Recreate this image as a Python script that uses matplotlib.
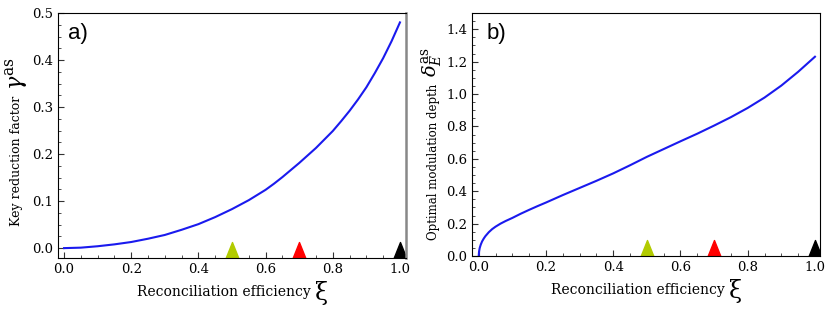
import numpy as np
import matplotlib
matplotlib.use("Agg")
import matplotlib.pyplot as plt
from matplotlib.path import Path
from matplotlib.ticker import MultipleLocator
from matplotlib.transforms import blended_transform_factory

# values
xi_a = [0.0, 0.05, 0.1, 0.15, 0.2, 0.25, 0.3, 0.35, 0.4, 0.45, 0.5, 0.55,
        0.6, 0.625, 0.65, 0.675, 0.7, 0.725, 0.75, 0.775, 0.8, 0.825, 0.85,
        0.875, 0.9, 0.925, 0.95, 0.975, 1.0]
gamma = [0.0, 0.001, 0.004, 0.008, 0.013, 0.020, 0.028, 0.039, 0.051, 0.066,
         0.083, 0.102, 0.124, 0.137, 0.151, 0.166, 0.181, 0.197, 0.213, 0.231,
         0.249, 0.270, 0.292, 0.316, 0.342, 0.372, 0.404, 0.440, 0.48]

xi_b = [0.0, 0.001, 0.003, 0.006, 0.01, 0.015, 0.02, 0.03, 0.04, 0.05, 0.065,
        0.08, 0.1, 0.125, 0.15, 0.175, 0.2, 0.25, 0.3, 0.35, 0.4, 0.45, 0.5,
        0.55, 0.6, 0.65, 0.7, 0.75, 0.8, 0.85, 0.9, 0.95, 1.0]
delta = [0.0, 0.028, 0.05, 0.07, 0.09, 0.108, 0.123, 0.147, 0.166, 0.181,
         0.200, 0.216, 0.235, 0.261, 0.285, 0.308, 0.330, 0.376, 0.420,
         0.464, 0.510, 0.560, 0.612, 0.660, 0.708, 0.755, 0.805, 0.857,
         0.914, 0.978, 1.052, 1.137, 1.23]

mark_x = [0.5, 0.7, 1.0]
mark_c = ["#b2cb00", "#ff0000", "#000000"]

plt.rcParams["font.family"] = "DejaVu Serif"
plt.rcParams["mathtext.fontset"] = "dejavuserif"

tri = Path([(-0.4, 0), (0.4, 0), (0, 1), (-0.4, 0)])

fig = plt.figure(figsize=(8.31, 3.09), dpi=100)
ax1 = fig.add_axes([58/831, 1-258/309, 348/831, 245/309])
ax2 = fig.add_axes([472/831, 1-256/309, 348/831, 243/309])


def style(ax):
    ax.tick_params(which="both", direction="in", top=False, right=False,
                   labelsize=9.5, color="#333333")
    ax.tick_params(which="major", length=4)
    ax.tick_params(which="minor", length=2)
    ax.xaxis.set_major_locator(MultipleLocator(0.2))
    ax.xaxis.set_minor_locator(MultipleLocator(0.05))
    tr = blended_transform_factory(ax.transData, ax.transAxes)
    for x, c in zip(mark_x, mark_c):
        ax.plot([x], [0], marker=tri, markersize=23, color=c,
                transform=tr, linestyle="none")
    t = ax.text(0.5 - 8/348, -0.112, "Reconciliation efficiency",
                transform=ax.transAxes, ha="center", va="top", fontsize=10)
    ax.annotate("ξ", xy=(1, 0), xycoords=t, xytext=(3, -4),
                textcoords="offset points", ha="left", va="bottom", fontsize=17)


ax1.plot(xi_a, gamma, color="#1a1aee", lw=1.5)
ax1.set_xlim(-0.018, 1.018)
ax1.set_ylim(-0.021, 0.5)
ax1.yaxis.set_minor_locator(MultipleLocator(0.025))
ax1.set_yticks(np.arange(0, 0.51, 0.1))
ax1.set_yticklabels([f"{v:.1f}" for v in ax1.get_yticks()])
style(ax1)
ax1.spines["right"].set_color("#888888")
ax1.spines["right"].set_linewidth(1.8)
ax1.text(0.03, 0.96, "a)", transform=ax1.transAxes, ha="left", va="top",
         fontsize=16, family="Liberation Sans")
fig.text(17/831, 1-161/309, "Key reduction factor", rotation=90,
         ha="center", va="center", fontsize=9)
fig.text(16/831, 1-74/309, r"$\gamma^{\mathregular{as}}$", rotation=90,
         ha="center", va="center", fontsize=16)

ax2.plot(xi_b, delta, color="#1a1aee", lw=1.5)
ax2.set_xlim(-0.02, 1.015)
ax2.set_ylim(0, 1.5)
ax2.yaxis.set_minor_locator(MultipleLocator(0.05))
ax2.set_yticks(np.arange(0, 1.41, 0.2))
ax2.set_yticklabels([f"{v:.1f}" for v in ax2.get_yticks()])
style(ax2)
ax2.text(0.043, 0.96, "b)", transform=ax2.transAxes, ha="left", va="top",
         fontsize=16, family="Liberation Sans")
fig.text(433/831, 1-162/309, "Optimal modulation depth", rotation=90,
         ha="center", va="center", fontsize=8.5)
fig.text(432/831, 1-62/309, r"$\delta_{E}^{\mathregular{as}}$", rotation=90,
         ha="center", va="center", fontsize=14)

fig.savefig("out.png", dpi=100)
